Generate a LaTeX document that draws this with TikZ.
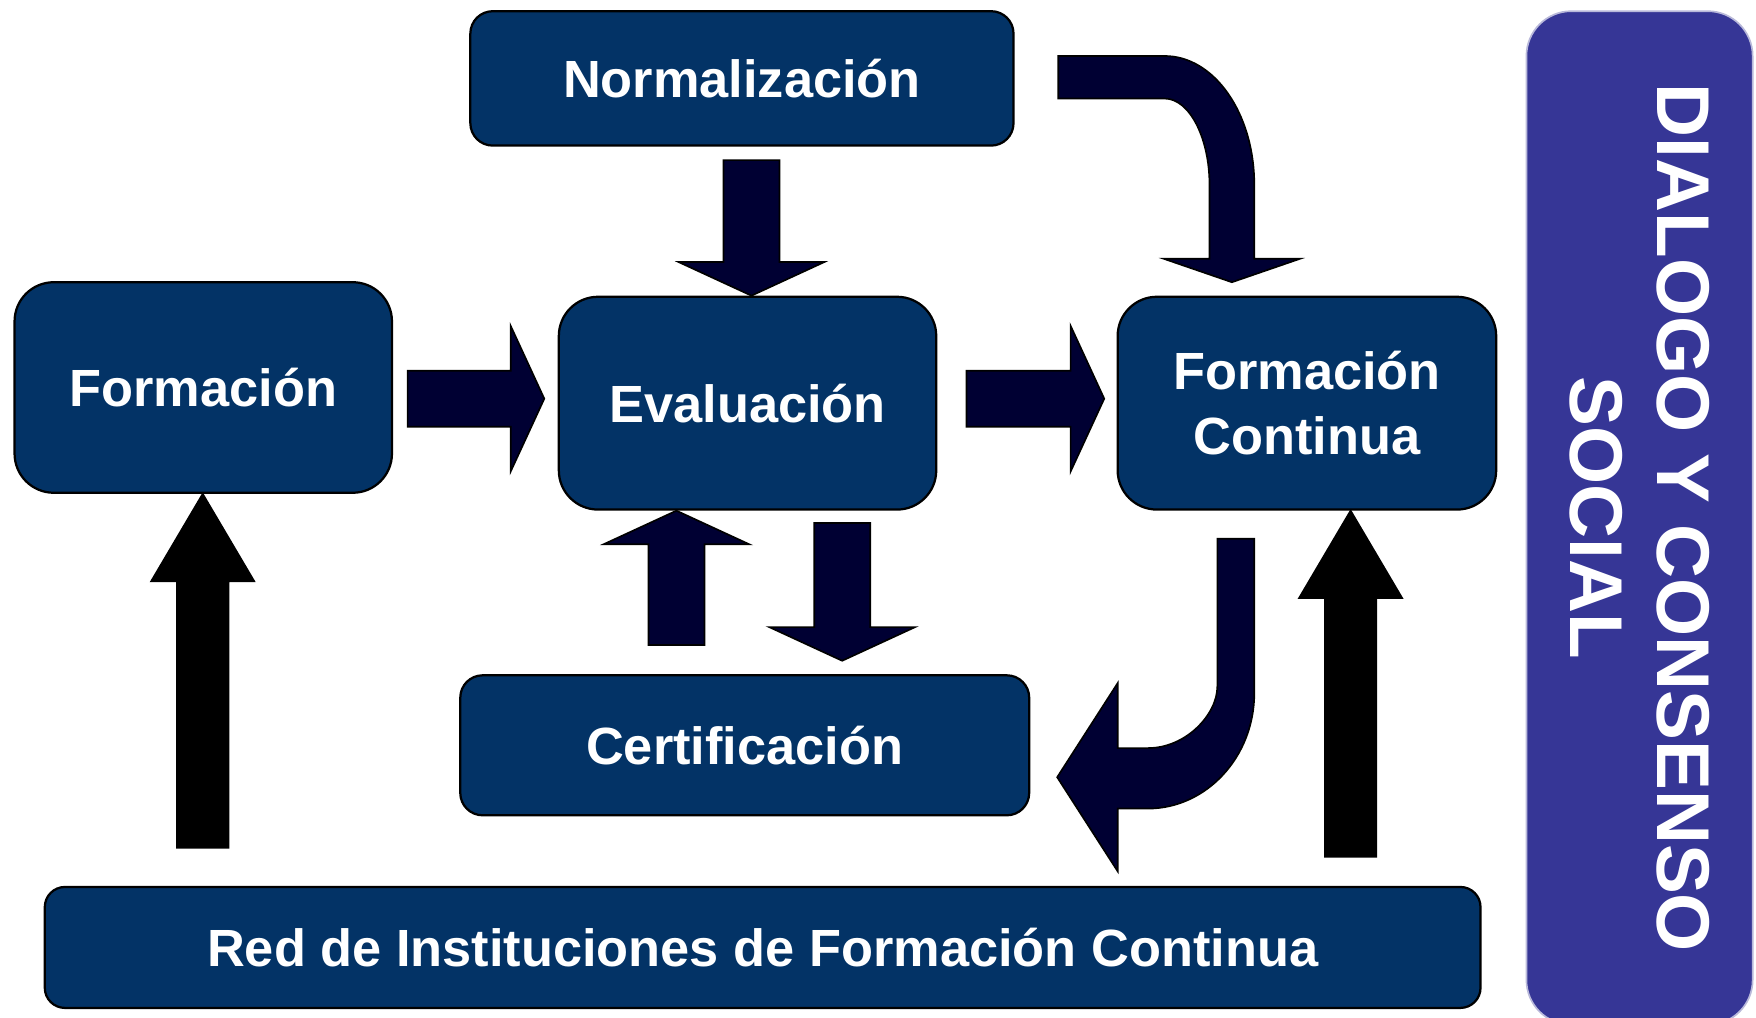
\documentclass[tikz,border=0pt]{standalone}
\usepackage{fontspec}
\setmainfont{Liberation Sans}
\usetikzlibrary{calc}

\definecolor{boxblue}{RGB}{3,51,102}
\definecolor{arrowblue}{RGB}{0,0,51}
\definecolor{sideblue}{RGB}{54,54,150}

\tikzset{
	box/.style={draw=black, line width=0.4mm, fill=boxblue, text=white, inner sep=0pt, align=center,
		font=\bfseries\fontsize{26.6}{33}\selectfont},
	fatarrow/.style n args={3}{draw=black, line width=0.3mm, fill=arrowblue, line join=miter,
		to path={
			($(\tikztostart)!#1!90:(\tikztotarget)$)
			-- ($(\tikztotarget)!#3!(\tikztostart)!#1!90:(\tikztotarget)$)
			-- ($(\tikztotarget)!#3!(\tikztostart)!#2!90:(\tikztotarget)$)
			-- (\tikztotarget)
			-- ($(\tikztotarget)!#3!(\tikztostart)!#2!-90:(\tikztotarget)$)
			-- ($(\tikztotarget)!#3!(\tikztostart)!#1!-90:(\tikztotarget)$)
			-- ($(\tikztostart)!#1!-90:(\tikztotarget)$)
			-- cycle}},
	navyarrow/.style={fatarrow={5mm}{13mm}{6mm}},
	blackarrow/.style={fatarrow={4.6mm}{9.2mm}{15.6mm}, fill=black},
}

\begin{document}
\begin{tikzpicture}[x=0.2mm, y=-0.2mm]
	\useasboundingbox (0, 0) rectangle (1568, 909);

	\node[box, rounded corners=4mm, minimum width=97mm, minimum height=24mm] (norm) at (662.5, 70) {Normalización};
	\node[box, rounded corners=7mm, minimum width=67.4mm, minimum height=37.6mm] (form) at (181.5, 346) {Formación};
	\node[box, rounded corners=7mm, minimum width=67.4mm, minimum height=38mm] (eval) at (667.5, 360) {Evaluación};
	\node[box, rounded corners=7mm, minimum width=67.6mm, minimum height=38mm] (fc) at (1167, 360) {Formación\\Continua};
	\node[box, rounded corners=4mm, minimum width=101.6mm, minimum height=25mm] (cert) at (665, 665.5) {Certificación};
	\node[box, rounded corners=3.6mm, minimum width=256.4mm, minimum height=21.6mm] (red) at (681, 846) {Red de Instituciones de Formación Continua};

	\node[draw=white!65!sideblue, line width=0.3mm, fill=sideblue, rounded corners=8mm, minimum width=40.4mm, minimum height=181mm] (dialogo) at (1464, 462.5) {};
	\node[text=white, rotate=-90, align=center, font=\bfseries\fontsize{38}{44}\selectfont] (dialogotxt) at (dialogo.center) {DIALOGO Y CONSENSO\\SOCIAL};

	\coordinate (n2e-s) at (671, 143);
	\coordinate (n2e-e) at (n2e-s |- eval.north);
	\coordinate (f2e-s) at (364, 356);
	\coordinate (f2e-e) at (486, 356);
	\coordinate (e2fc-s) at (863, 356);
	\coordinate (e2fc-e) at (986, 356);
	\coordinate (c2e-s) at (604, 576);
	\coordinate (c2e-e) at (c2e-s |- eval.south);
	\coordinate (e2c-s) at (752, 467);
	\coordinate (e2c-e) at (752, 590);
	\coordinate (r2f-s) at (181, 757);
	\coordinate (r2f-e) at (r2f-s |- form.south);
	\coordinate (r2fc-s) at (1206, 765);
	\coordinate (r2fc-e) at (r2fc-s |- fc.south);

	\draw[navyarrow] (n2e-s) to (n2e-e);
	\draw[navyarrow] (f2e-s) to (f2e-e);
	\draw[navyarrow] (e2fc-s) to (e2fc-e);
	\draw[navyarrow] (c2e-s) to (c2e-e);
	\draw[navyarrow] (e2c-s) to (e2c-e);
	\draw[blackarrow] (r2f-s) to (r2f-e);
	\draw[blackarrow] (r2fc-s) to (r2fc-e);

	\draw[fill=arrowblue, line width=0.3mm] (945, 50) -- (1040, 50) .. controls (1084, 50) and (1120, 101) .. (1120, 165)
		-- (1120, 231) -- (1161, 231) -- (1100, 252) -- (1039, 231) -- (1080, 231) -- (1080, 165)
		.. controls (1080, 123) and (1062, 88) .. (1040, 88) -- (945, 88) -- cycle;
	\draw[fill=arrowblue, line width=0.3mm] (1087, 481) -- (1120, 481) -- (1120, 619) .. controls (1120, 676) and (1077, 722) .. (1025, 722)
		-- (998, 722) -- (998, 778) -- (944, 694) -- (998, 610) -- (998, 668) -- (1025, 668)
		.. controls (1059, 668) and (1087, 638) .. (1087, 613) -- cycle;

\end{tikzpicture}
\end{document}
